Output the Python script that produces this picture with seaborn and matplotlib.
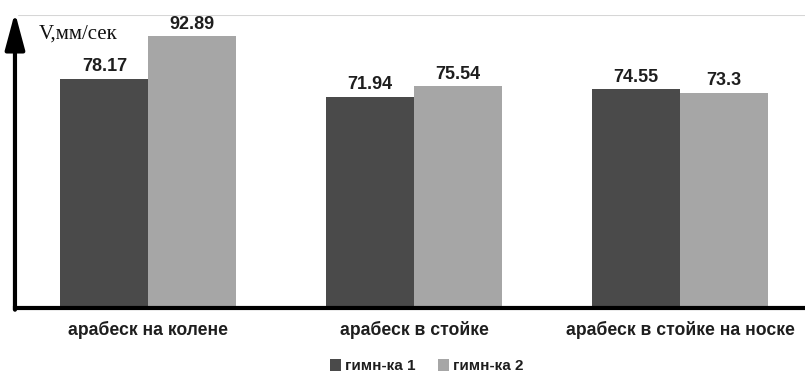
import matplotlib
matplotlib.use("Agg")
import matplotlib.pyplot as plt
import seaborn as sns
import pandas as pd

categories = ["арабеск на колене", "арабеск в стойке", "арабеск в стойке на носке"]
series_names = ["гимн-ка 1", "гимн-ка 2"]
gym1 = [78.17, 71.94, 74.55]
gym2 = [92.89, 75.54, 73.3]
y_label = "V,мм/сек"

df = pd.DataFrame({
    "cat": categories * 2,
    "series": [series_names[0]] * 3 + [series_names[1]] * 3,
    "value": gym1 + gym2,
})

sns.set_theme(style="white")
plt.rcParams["font.family"] = ["Liberation Sans", "DejaVu Sans"]

fig = plt.figure(figsize=(8.05, 3.74), dpi=100)
ax = fig.add_axes([0.0186, 0.182, 0.9814, 0.777])

sns.barplot(data=df, x="cat", y="value", hue="series", order=categories,
            hue_order=series_names, palette=["#4a4a4a", "#a6a6a6"],
            width=0.662, ax=ax, legend=True, saturation=1, linewidth=0)

XMIN, XMAX = -0.502, 2.470
ax.set_xlim(XMIN, XMAX)
ax.set_ylim(0, 100)
ax.set_yticks([])
ax.set_xlabel("")
ax.set_ylabel("")
for s in ["left", "right", "top"]:
    ax.spines[s].set_visible(False)
ax.spines["bottom"].set_linewidth(3)
ax.spines["bottom"].set_color("black")
ax.spines["bottom"].set_position(("outward", 1.5))
ax.spines["bottom"].set_capstyle("projecting")

# light line at the top of the value range
ax.axhline(100, xmin=0.005, xmax=1, color="#d6d6d6", lw=1.5, zorder=0)

# vertical axis with an arrow head
ax.annotate("", xy=(XMIN, 101), xytext=(XMIN, -1.3),
            xycoords="data", textcoords="data",
            arrowprops=dict(arrowstyle="-|>,head_width=0.5,head_length=1.86",
                            color="black", lw=3, shrinkA=0, shrinkB=0),
            annotation_clip=False)

ax.text(-0.413, 93.5, y_label, fontsize=15, family=["Liberation Serif", "DejaVu Serif"],
        ha="left", va="center", color="#111111")

for cont in ax.containers:
    ax.bar_label(cont, labels=[f"{v:g}" for v in cont.datavalues], padding=2.5,
                 fontsize=13, fontweight="bold", color="#1e1e1e")

ax.tick_params(axis="x", length=0, pad=9, labelsize=12.7)
for lbl in ax.get_xticklabels():
    lbl.set_fontweight("bold")
    lbl.set_color("#1e1e1e")

leg = ax.legend(loc="center", bbox_to_anchor=(0.5215, -0.2065), ncol=2,
                frameon=False, fontsize=11, handlelength=0.7, handleheight=0.85,
                handletextpad=0.25, columnspacing=1.5, borderpad=0)
for t in leg.get_texts():
    t.set_fontweight("bold")
    t.set_color("#1e1e1e")

fig.savefig("out.png", dpi=100)
